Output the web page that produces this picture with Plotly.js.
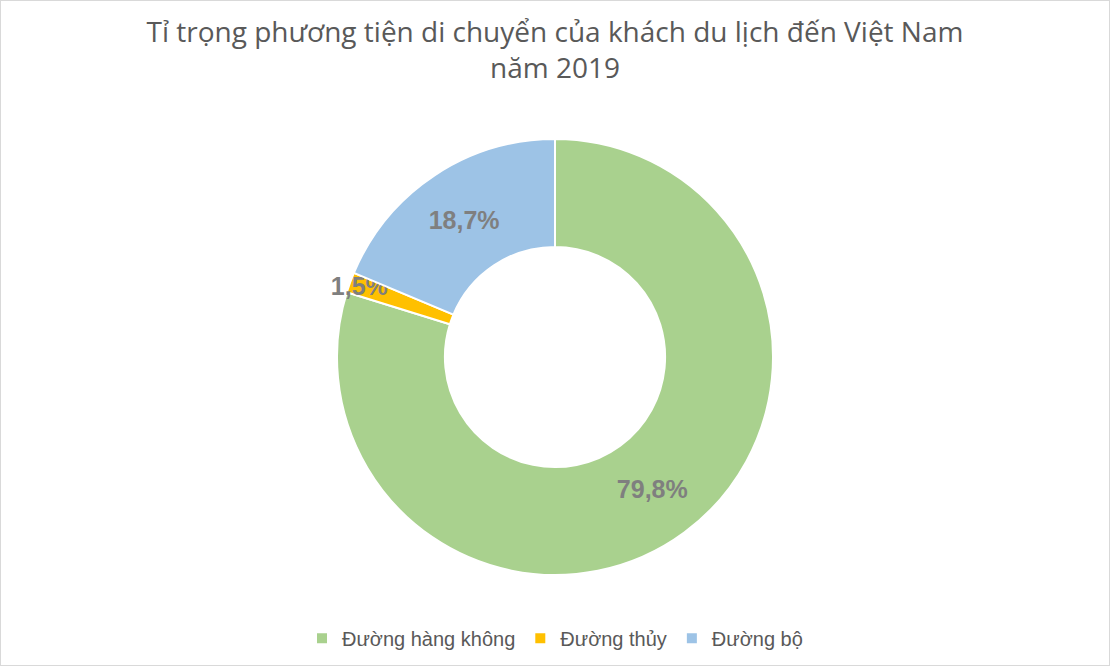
<!DOCTYPE html>
<html><head><meta charset="utf-8">
<script src="https://cdn.plot.ly/plotly-3.0.1.min.js"></script>
<style>body{margin:0;background:#fff}#wrap{position:relative;width:1110px;height:666px}#chart{width:1110px;height:666px}#frame{position:absolute;left:0;top:0;width:1108px;height:664px;border:1px solid #d9d9d9;pointer-events:none}</style>
</head><body><div id="wrap"><div id="chart"></div><div id="frame"></div></div>
<script>
const categories = ["Đường hàng không", "Đường thủy", "Đường bộ"];
const shares = [79.8, 1.5, 18.7];
const colors = ["#A9D18E", "#FFC000", "#9DC3E6"];
const titleText = "Tỉ trọng phương tiện di chuyển của khách du lịch đến Việt Nam<br>năm 2019";

Plotly.newPlot("chart", [{
  type: "pie",
  labels: categories,
  values: shares,
  sort: false,
  direction: "clockwise",
  rotation: 0,
  hole: 0.505,
  marker: {colors: colors, line: {color: "#ffffff", width: 2}},
  texttemplate: "%{value:.1f}%",
  textposition: "inside",
  insidetextorientation: "horizontal",
  textfont: {family: "Liberation Sans, Arial, sans-serif", size: 25, color: "#7f7f7f", weight: "bold"},
  hoverinfo: "label+percent"
}], {
  width: 1110, height: 666,
  separators: ",.",
  margin: {t: 139, b: 91, l: 100, r: 100, autoexpand: false},
  paper_bgcolor: "#ffffff",
  uniformtext: {mode: "show", minsize: 25},
  title: {
    text: titleText,
    font: {family: "Open Sans, sans-serif", size: 28, color: "#595959"},
    x: 0.5, xanchor: "center", y: 0.937, yanchor: "middle", yref: "container",
    automargin: false
  },
  showlegend: true,
  legend: {
    orientation: "h", x: 0.5, xanchor: "center", y: -0.145, yanchor: "middle",
    font: {family: "Liberation Sans, Arial, sans-serif", size: 20, color: "#595959"},
    itemsizing: "constant", traceorder: "normal"
  }
}, {displayModeBar: false});
</script></body></html>
